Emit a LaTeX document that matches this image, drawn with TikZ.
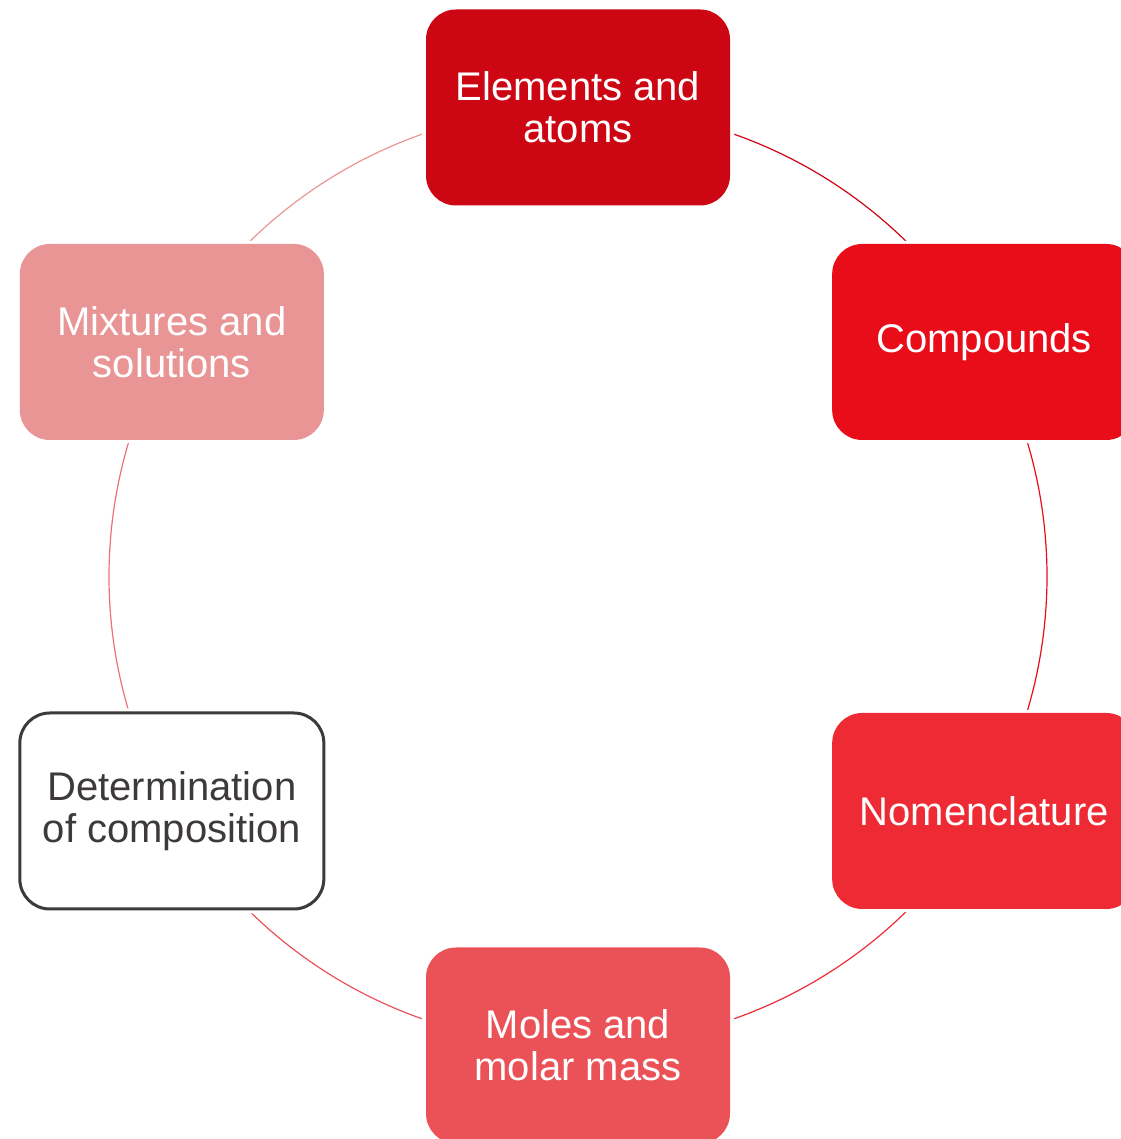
\documentclass[tikz,border=0pt]{standalone}
\usepackage{fontspec}
\setmainfont{Liberation Sans}
\usetikzlibrary{backgrounds}
\definecolor{cElem}{HTML}{CC0612}
\definecolor{cComp}{HTML}{E90D1A}
\definecolor{cNom}{HTML}{EE2B34}
\definecolor{cMol}{HTML}{EA5257}
\definecolor{cDet}{HTML}{3E3A3A}
\definecolor{cDetRing}{HTML}{EE6F75}
\definecolor{cMix}{HTML}{EA9595}
\begin{document}
\begin{tikzpicture}[x=1pt,y=1pt,
  box/.style={rounded corners=30pt, minimum width=304pt, minimum height=196pt,
    inner sep=0pt, align=center, text=white,
    font=\fontsize{40}{42}\selectfont},
  ring/.style={line width=1.2pt}]
\useasboundingbox (0,0) rectangle (1120,1139);
\coordinate (o) at (578,562.5);
% six topics placed around a circle
\node[box, fill=cElem] (el) at ([shift={(90:469pt)}]o) {Elements and\\atoms};
\node[box, fill=cComp] (co) at ([shift={(30:469pt)}]o) {Compounds};
\node[box, fill=cNom]  (no) at ([shift={(-30:469pt)}]o) {Nomenclature};
\node[box, fill=cMol]  (mo) at ([shift={(-90:469pt)}]o) {Moles and\\molar mass};
\node[box, fill=white, draw=cDet, line width=3pt, text=cDet] (de)
  at ([shift={(-150:469pt)}]o) {Determination\\of composition};
\node[box, fill=cMix]  (mi) at ([shift={(150:469pt)}]o) {Mixtures and\\solutions};
% ring segments joining neighbouring topics
\begin{scope}[on background layer]
\draw[ring, cElem]    (el.center) arc[start angle=90,   end angle=30,   radius=469pt];
\draw[ring, cComp]    (co.center) arc[start angle=30,   end angle=-30,  radius=469pt];
\draw[ring, cNom]     (no.center) arc[start angle=-30,  end angle=-90,  radius=469pt];
\draw[ring, cMol]     (mo.center) arc[start angle=-90,  end angle=-150, radius=469pt];
\draw[ring, cDetRing] (de.center) arc[start angle=-150, end angle=-210, radius=469pt];
\draw[ring, cMix]     (mi.center) arc[start angle=150,  end angle=90,   radius=469pt];
% small white margin around each box so the ring stops short of it
\foreach \n in {el,co,no,mo,de,mi}
  \fill[white, rounded corners=33pt]
    ([shift={(-4,-3)}]\n.south west) rectangle ([shift={(4,3)}]\n.north east);
\end{scope}
\end{tikzpicture}
\end{document}
